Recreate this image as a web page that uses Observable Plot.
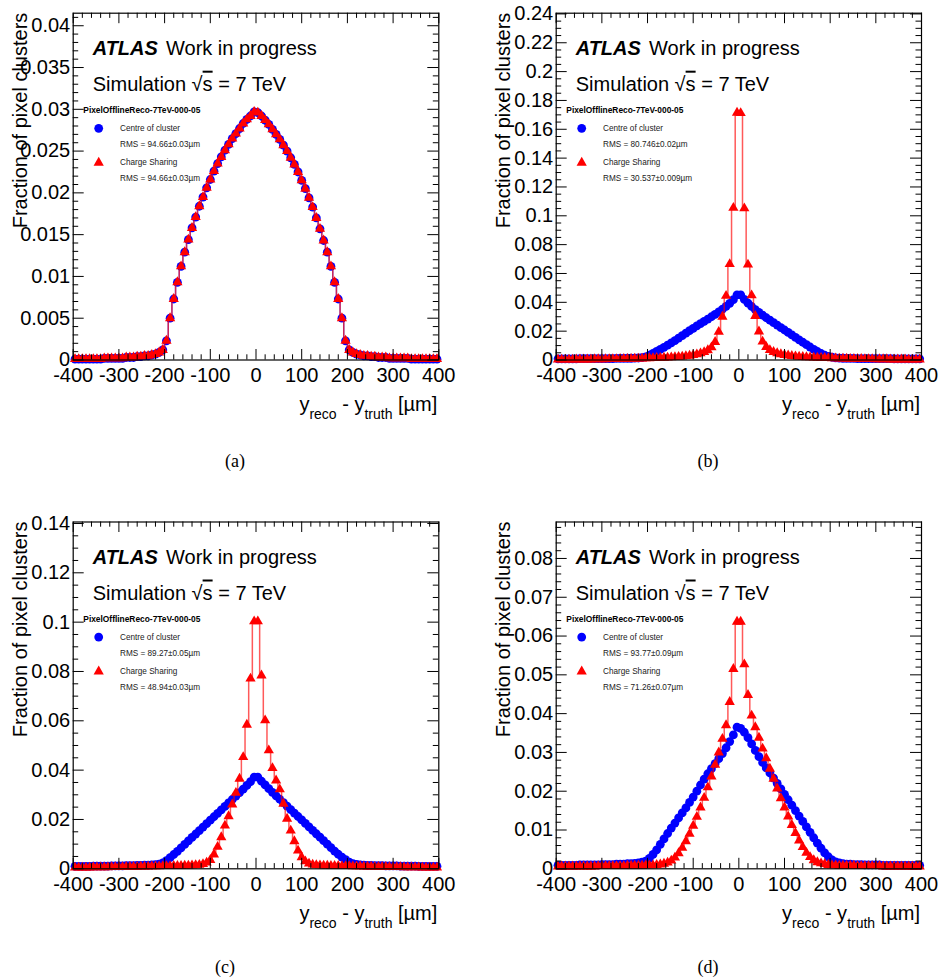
<!DOCTYPE html>
<html><head><meta charset="utf-8">
<script src="https://cdn.jsdelivr.net/npm/d3@7"></script>
<script src="https://cdn.jsdelivr.net/npm/@observablehq/plot@0.6"></script>
<style>
body{margin:0;background:#fff;}
#fig{position:relative;width:938px;height:979px;background:#fff;overflow:hidden;}
.panel{position:absolute;}
#over{position:absolute;left:0;top:0;pointer-events:none;}
</style></head><body><div id="fig"></div>
<script>
// 100 bins of 8 µm between -400 and 400 µm (bin centres)
const binCentres = d3.range(-396, 400, 8);

// x ticks
const xMajor = [-400, -300, -200, -100, 0, 100, 200, 300, 400];
// y tick labels per panel
const yMajorA = [0, 0.005, 0.01, 0.015, 0.02, 0.025, 0.03, 0.035, 0.04];
const yMajorB = [0, 0.02, 0.04, 0.06, 0.08, 0.1, 0.12, 0.14, 0.16, 0.18, 0.2, 0.22, 0.24];
const yMajorC = [0, 0.02, 0.04, 0.06, 0.08, 0.1, 0.12, 0.14];
const yMajorD = [0, 0.01, 0.02, 0.03, 0.04, 0.05, 0.06, 0.07, 0.08];

// (a)
const aCentre = [0.0001,0.0001,0.0001,0.0001,0.0001,0.0001,0.0001,0.0001,0.0002,0.0002,0.0002,0.0002,0.0002,0.0002,0.0003,0.0003,0.0003,0.0004,0.0004,0.0005,0.0005,0.0006,0.0007,0.0009,0.0012,
0.0023,0.0050,0.0073,0.0093,0.0112,0.0129,0.0144,0.0158,0.0171,0.0184,0.0195,0.0206,0.0216,0.0226,0.0235,0.0243,0.0251,0.0258,0.0265,0.0271,0.0277,0.0283,0.0288,0.0292,0.0297,
0.0296,0.0292,0.0287,0.0282,0.0276,0.0270,0.0264,0.0257,0.0250,0.0242,0.0234,0.0225,0.0215,0.0205,0.0194,0.0183,0.0170,0.0157,0.0143,0.0129,0.0112,0.0093,0.0073,0.0050,0.0023,
0.0012,0.0009,0.0007,0.0006,0.0005,0.0005,0.0004,0.0004,0.0003,0.0003,0.0003,0.0002,0.0002,0.0002,0.0002,0.0002,0.0002,0.0001,0.0001,0.0001,0.0001,0.0001,0.0001,0.0001,0.0001];
const aCharge = [0.0001,0.0001,0.0001,0.0001,0.0001,0.0001,0.0001,0.0001,0.0002,0.0002,0.0002,0.0002,0.0002,0.0002,0.0003,0.0003,0.0003,0.0004,0.0004,0.0005,0.0005,0.0006,0.0007,0.0009,0.0012,
0.0023,0.0050,0.0073,0.0093,0.0112,0.0129,0.0144,0.0158,0.0171,0.0184,0.0195,0.0206,0.0216,0.0226,0.0235,0.0243,0.0251,0.0258,0.0265,0.0271,0.0277,0.0283,0.0288,0.0292,0.0297,
0.0296,0.0292,0.0287,0.0282,0.0276,0.0270,0.0264,0.0257,0.0250,0.0242,0.0234,0.0225,0.0215,0.0205,0.0194,0.0183,0.0170,0.0157,0.0143,0.0129,0.0112,0.0093,0.0073,0.0050,0.0023,
0.0012,0.0009,0.0007,0.0006,0.0005,0.0005,0.0004,0.0004,0.0003,0.0003,0.0003,0.0002,0.0002,0.0002,0.0002,0.0002,0.0002,0.0001,0.0001,0.0001,0.0001,0.0001,0.0001,0.0001,0.0001];

// (b)
const bCentre = [0.0008,0.0008,0.0008,0.0008,0.0008,0.0008,0.0009,0.0009,0.0009,0.0009,0.0009,0.0009,0.0010,0.0010,0.0010,0.0010,0.0011,0.0011,0.0011,0.0012,0.0012,0.0013,0.0014,0.0016,0.0021,
0.0033,0.0046,0.0060,0.0074,0.0088,0.0103,0.0119,0.0135,0.0152,0.0169,0.0186,0.0203,0.0220,0.0236,0.0252,0.0268,0.0284,0.0300,0.0317,0.0334,0.0352,0.0372,0.0393,0.0418,0.0452,
0.0452,0.0420,0.0394,0.0371,0.0350,0.0330,0.0311,0.0293,0.0276,0.0259,0.0242,0.0225,0.0208,0.0191,0.0174,0.0157,0.0140,0.0123,0.0106,0.0090,0.0074,0.0059,0.0045,0.0033,0.0025,
0.0019,0.0015,0.0013,0.0012,0.0011,0.0011,0.0011,0.0010,0.0010,0.0010,0.0010,0.0009,0.0009,0.0009,0.0009,0.0009,0.0009,0.0008,0.0008,0.0008,0.0008,0.0008,0.0008,0.0008,0.0008];
const bCharge = [0.0003,0.0003,0.0003,0.0003,0.0003,0.0004,0.0004,0.0004,0.0004,0.0004,0.0005,0.0005,0.0005,0.0005,0.0006,0.0006,0.0006,0.0007,0.0007,0.0008,0.0008,0.0009,0.0010,0.0010,0.0011,
0.0012,0.0013,0.0014,0.0015,0.0016,0.0017,0.0018,0.0020,0.0022,0.0024,0.0027,0.0030,0.0034,0.0039,0.0046,0.0055,0.0068,0.0088,0.0125,0.0195,0.0300,0.0445,0.0665,0.1055,0.1715,
0.1712,0.1052,0.0662,0.0448,0.0305,0.0198,0.0128,0.0090,0.0069,0.0056,0.0047,0.0040,0.0035,0.0031,0.0028,0.0025,0.0023,0.0021,0.0019,0.0018,0.0017,0.0016,0.0015,0.0014,0.0013,
0.0012,0.0011,0.0010,0.0010,0.0009,0.0008,0.0008,0.0007,0.0007,0.0006,0.0006,0.0006,0.0005,0.0005,0.0005,0.0005,0.0004,0.0004,0.0004,0.0004,0.0004,0.0003,0.0003,0.0003,0.0003];

// (c)
const cCentre = [0.0010,0.0010,0.0010,0.0010,0.0010,0.0011,0.0011,0.0011,0.0011,0.0011,0.0012,0.0012,0.0012,0.0012,0.0013,0.0013,0.0013,0.0014,0.0014,0.0015,0.0015,0.0016,0.0017,0.0019,0.0024,
0.0033,0.0045,0.0058,0.0071,0.0085,0.0099,0.0113,0.0127,0.0141,0.0155,0.0169,0.0183,0.0197,0.0211,0.0225,0.0239,0.0253,0.0267,0.0281,0.0295,0.0309,0.0323,0.0338,0.0353,0.0372,
0.0372,0.0355,0.0340,0.0325,0.0310,0.0296,0.0282,0.0268,0.0254,0.0240,0.0226,0.0212,0.0198,0.0184,0.0170,0.0156,0.0142,0.0128,0.0114,0.0100,0.0086,0.0072,0.0059,0.0047,0.0037,
0.0027,0.0021,0.0018,0.0016,0.0015,0.0014,0.0014,0.0013,0.0013,0.0013,0.0012,0.0012,0.0012,0.0012,0.0011,0.0011,0.0011,0.0011,0.0011,0.0010,0.0010,0.0010,0.0010,0.0010,0.0010];
const cCharge = [0.0005,0.0005,0.0005,0.0005,0.0005,0.0006,0.0006,0.0006,0.0006,0.0006,0.0007,0.0007,0.0007,0.0007,0.0008,0.0008,0.0008,0.0008,0.0009,0.0009,0.0009,0.0010,0.0010,0.0010,0.0011,
0.0011,0.0011,0.0012,0.0012,0.0012,0.0013,0.0013,0.0014,0.0015,0.0016,0.0019,0.0025,0.0036,0.0058,0.0089,0.0128,0.0175,0.0213,0.0261,0.0308,0.0365,0.0453,0.0584,0.0771,0.1003,
0.1003,0.0784,0.0602,0.0480,0.0408,0.0358,0.0322,0.0264,0.0203,0.0155,0.0112,0.0074,0.0047,0.0030,0.0021,0.0017,0.0015,0.0014,0.0013,0.0013,0.0012,0.0012,0.0012,0.0011,0.0011,
0.0011,0.0010,0.0010,0.0010,0.0009,0.0009,0.0009,0.0008,0.0008,0.0008,0.0008,0.0007,0.0007,0.0007,0.0007,0.0006,0.0006,0.0006,0.0006,0.0006,0.0005,0.0005,0.0005,0.0005,0.0005];

// (d)
const dCentre = [0.0009,0.0009,0.0009,0.0009,0.0009,0.0009,0.0010,0.0010,0.0010,0.0010,0.0010,0.0010,0.0011,0.0011,0.0011,0.0011,0.0012,0.0012,0.0012,0.0013,0.0013,0.0014,0.0015,0.0017,0.0020,
0.0027,0.0037,0.0049,0.0063,0.0077,0.0091,0.0105,0.0118,0.0131,0.0144,0.0157,0.0171,0.0185,0.0200,0.0216,0.0231,0.0245,0.0258,0.0271,0.0284,0.0297,0.0312,0.0328,0.0345,0.0365,
0.0362,0.0352,0.0338,0.0322,0.0305,0.0289,0.0274,0.0260,0.0247,0.0234,0.0220,0.0206,0.0192,0.0178,0.0164,0.0150,0.0136,0.0122,0.0108,0.0094,0.0080,0.0066,0.0053,0.0041,0.0031,
0.0023,0.0018,0.0015,0.0013,0.0012,0.0012,0.0011,0.0011,0.0011,0.0010,0.0010,0.0010,0.0010,0.0010,0.0009,0.0009,0.0009,0.0009,0.0009,0.0009,0.0009,0.0009,0.0009,0.0009,0.0009];
const dCharge = [0.0006,0.0006,0.0006,0.0006,0.0006,0.0006,0.0006,0.0006,0.0006,0.0006,0.0006,0.0007,0.0007,0.0007,0.0007,0.0007,0.0007,0.0007,0.0007,0.0008,0.0008,0.0008,0.0008,0.0008,0.0009,
0.0009,0.0009,0.0010,0.0011,0.0013,0.0016,0.0021,0.0029,0.0040,0.0054,0.0071,0.0090,0.0111,0.0134,0.0158,0.0183,0.0210,0.0238,0.0268,0.0300,0.0335,0.0370,0.0430,0.0515,0.0637,
0.0637,0.0527,0.0448,0.0395,0.0365,0.0338,0.0310,0.0285,0.0258,0.0232,0.0207,0.0182,0.0158,0.0135,0.0113,0.0092,0.0073,0.0056,0.0041,0.0030,0.0022,0.0017,0.0014,0.0012,0.0010,
0.0009,0.0009,0.0008,0.0008,0.0008,0.0008,0.0008,0.0007,0.0007,0.0007,0.0007,0.0007,0.0007,0.0007,0.0006,0.0006,0.0006,0.0006,0.0006,0.0006,0.0006,0.0006,0.0006,0.0006,0.0006];

const legendTitle = "PixelOfflineReco-7TeV-000-05";
const seriesNames = ["Centre of cluster", "Charge Sharing"];
const rmsCentre = ["94.66±0.03", "80.746±0.02", "89.27±0.05", "93.77±0.09"];
const rmsCharge = ["94.66±0.03", "30.537±0.009", "48.94±0.03", "71.26±0.07"];
const captions = ["(a)", "(b)", "(c)", "(d)"];

const FONT = '"Liberation Sans", Arial, Helvetica, sans-serif';
const BLUE = "#0000ff", RED = "#ff0000";
const RC = 4.4, RT = 3.8; // marker radii

const panels = [
  {left:0,   top:0,   w:470, h:430, ml:72.7, mr:31.7, mt:12.7, mb:70.5, ymax:0.0415, yMajor:yMajorA, yMinorStep:0.001, centre:aCentre, charge:aCharge, cap:[235,467]},
  {left:470, top:0,   w:468, h:430, ml:85.7, mr:17,   mt:12.7, mb:70.5, ymax:0.2405, yMajor:yMajorB, yMinorStep:0.005, centre:bCentre, charge:bCharge, cap:[708,467]},
  {left:0,   top:490, w:470, h:420, ml:72.7, mr:31.7, mt:31.5, mb:41.7, ymax:0.1406, yMajor:yMajorC, yMinorStep:0.005, centre:cCentre, charge:cCharge, cap:[225,973]},
  {left:470, top:490, w:468, h:420, ml:85.7, mr:17,   mt:31.5, mb:41.7, ymax:0.0894, yMajor:yMajorD, yMinorStep:0.002, centre:dCentre, charge:dCharge, cap:[708,973]}
];

const xMinor = d3.range(-380, 400, 20).filter(v => v % 100 !== 0);
const fig = document.getElementById("fig");

panels.forEach((p, k) => {
  const fw = p.w - p.ml - p.mr, fh = p.h - p.mt - p.mb;
  const centre = binCentres.map((x, i) => ({x, y: p.centre[i]}));
  const charge = binCentres.map((x, i) => ({x, y: p.charge[i]}));
  const yMinor = d3.range(0, p.ymax, p.yMinorStep).map(v => +v.toFixed(4)).filter(v => !p.yMajor.some(m => Math.abs(m - v) < 1e-9));
  const svg = Plot.plot({
    width: p.w, height: p.h,
    marginLeft: p.ml, marginRight: p.mr, marginTop: p.mt, marginBottom: p.mb,
    style: {fontFamily: FONT, fontSize: "20px", color: "black", background: "white", overflow: "visible"},
    x: {domain: [-400, 400], ticks: xMajor, tickSize: 0, tickPadding: 7.5, tickFormat: d => String(d), label: null},
    y: {domain: [0, p.ymax], ticks: p.yMajor, tickSize: 0, tickPadding: 3, tickFormat: d3.format("~g"), label: null},
    marks: [
      Plot.line(centre, {x: "x", y: "y", curve: "step", stroke: BLUE, strokeWidth: 1.5, strokeOpacity: 0.6}),
      Plot.dot(centre, {x: "x", y: "y", r: RC, fill: BLUE, symbol: "circle"}),
      Plot.line(charge, {x: "x", y: "y", curve: "step", stroke: RED, strokeWidth: 1.5, strokeOpacity: 0.65}),
      Plot.dot(charge, {x: "x", y: "y", r: RT, fill: RED, symbol: "triangle"}),
      // ROOT style inward ticks on all four sides
      Plot.ruleX(xMajor, {x: d => d, insetTop: fh - 10.5, stroke: "black"}),
      Plot.ruleX(xMajor, {x: d => d, insetBottom: fh - 10.5, stroke: "black"}),
      Plot.ruleX(xMinor, {x: d => d, insetTop: fh - 5.2, stroke: "black"}),
      Plot.ruleX(xMinor, {x: d => d, insetBottom: fh - 5.2, stroke: "black"}),
      Plot.ruleY(p.yMajor, {y: d => d, insetRight: fw - 11, stroke: "black"}),
      Plot.ruleY(p.yMajor, {y: d => d, insetLeft: fw - 11, stroke: "black"}),
      Plot.ruleY(yMinor, {y: d => d, insetRight: fw - 5.5, stroke: "black"}),
      Plot.ruleY(yMinor, {y: d => d, insetLeft: fw - 5.5, stroke: "black"}),
      Plot.frame({stroke: "black", strokeWidth: 1.2})
    ]
  });
  const div = document.createElement("div");
  div.className = "panel";
  div.style.left = p.left + "px";
  div.style.top = p.top + "px";
  div.appendChild(svg);
  fig.appendChild(div);

  const g = d3.select(svg).append("g").attr("font-family", FONT).attr("fill", "black").attr("text-anchor", "start");
  const fx = p.ml, fy = p.mt;
  // ATLAS label
  g.append("text").attr("x", fx + 20).attr("y", fy + 42.3).attr("font-size", 20)
    .attr("font-weight", "bold").attr("font-style", "italic").text("ATLAS");
  g.append("text").attr("x", fx + 93.3).attr("y", fy + 42.3).attr("font-size", 20).text("Work in progress");
  const sim = g.append("text").attr("x", fx + 20).attr("y", fy + 78).attr("font-size", 20);
  sim.append("tspan").text("Simulation √");
  sim.append("tspan").style("text-decoration", "overline").text("s");
  sim.append("tspan").text(" = 7 TeV");
  // legend
  g.append("text").attr("x", fx + 10.6).attr("y", fy + 100.3).attr("font-size", 8.4).attr("font-weight", "bold").text(legendTitle);
  g.append("circle").attr("cx", fx + 26).attr("cy", fy + 115.6).attr("r", RC).attr("fill", BLUE);
  g.append("text").attr("x", fx + 47.3).attr("y", fy + 118.3).attr("font-size", 8.2).attr("fill", "#222").text(seriesNames[0]);
  g.append("text").attr("x", fx + 47.3).attr("y", fy + 134).attr("font-size", 8.2).attr("fill", "#222").text("RMS = " + rmsCentre[k] + "µm");
  g.append("path").attr("transform", `translate(${fx + 26},${fy + 150})`)
    .attr("d", d3.symbol(d3.symbolTriangle, Math.PI * RT * RT)()).attr("fill", RED);
  g.append("text").attr("x", fx + 47.3).attr("y", fy + 152.3).attr("font-size", 8.2).attr("fill", "#222").text(seriesNames[1]);
  g.append("text").attr("x", fx + 47.3).attr("y", fy + 168).attr("font-size", 8.2).attr("fill", "#222").text("RMS = " + rmsCharge[k] + "µm");
  // y axis title
  g.append("text").attr("transform", `translate(${fx - 46},${fy}) rotate(-90)`)
    .attr("text-anchor", "end").attr("font-size", 20).text("Fraction of pixel clusters");
  // x axis title
  const xt = g.append("text").attr("x", fx + fw - 1).attr("y", fy + fh + 51.3).attr("text-anchor", "end").attr("font-size", 20);
  xt.append("tspan").text("y");
  xt.append("tspan").attr("font-size", 14).attr("dy", 8).text("reco");
  xt.append("tspan").attr("dy", -8).text(" - y");
  xt.append("tspan").attr("font-size", 14).attr("dy", 8).text("truth");
  xt.append("tspan").attr("dy", -8).text(" [µm]");
});

// sub-figure captions
const over = d3.select(fig).append("svg").attr("id", "over").attr("width", 938).attr("height", 979);
panels.forEach((p, k) => {
  over.append("text").attr("x", p.cap[0]).attr("y", p.cap[1]).attr("text-anchor", "middle")
    .attr("font-family", '"Liberation Serif", "DejaVu Serif", serif').attr("font-size", 18).text(captions[k]);
});
</script></body></html>
